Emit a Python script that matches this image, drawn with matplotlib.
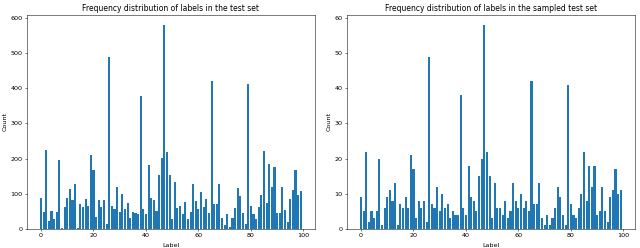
import matplotlib
matplotlib.use("Agg")
import matplotlib.pyplot as plt
import numpy as np

labels = np.arange(100)

test_counts = [88, 48, 225, 23, 52, 27, 47, 196, 3, 62,
               88, 113, 82, 127, 2, 70, 63, 86, 64, 209,
               168, 33, 82, 63, 82, 15, 490, 66, 56, 119,
               48, 98, 57, 73, 31, 47, 44, 42, 377, 57,
               42, 182, 89, 82, 52, 152, 203, 580, 220, 152,
               28, 133, 59, 65, 42, 77, 28, 48, 128, 80,
               56, 104, 63, 85, 46, 422, 72, 70, 127, 31,
               12, 42, 5, 31, 60, 117, 94, 44, 13, 412,
               65, 43, 28, 63, 97, 222, 75, 185, 118, 176,
               44, 46, 120, 53, 20, 86, 110, 167, 97, 107]

sampled_counts = [9, 5, 22, 2, 5, 3, 5, 20, 1, 6,
                  9, 11, 8, 13, 1, 7, 6, 9, 6, 21,
                  17, 3, 8, 6, 8, 2, 49, 7, 6, 12,
                  5, 10, 6, 7, 3, 5, 4, 4, 38, 6,
                  4, 18, 9, 8, 5, 15, 20, 58, 22, 15,
                  3, 13, 6, 6, 4, 8, 3, 5, 13, 8,
                  6, 10, 6, 8, 5, 42, 7, 7, 13, 3,
                  1, 4, 1, 3, 6, 12, 9, 4, 1, 41,
                  7, 4, 3, 6, 10, 22, 8, 18, 12, 18,
                  4, 5, 12, 5, 2, 9, 11, 17, 10, 11]

# original figure scaled down to 640x248
fig, axes = plt.subplots(1, 2, figsize = (14, 5.425), dpi = 640 / 14)
fig.subplots_adjust(left = 0.042, right = 0.992, top = 0.94, bottom = 0.077, wspace = 0.111)

for ax, counts, title in zip(axes, [test_counts, sampled_counts],
                             ["Frequency distribution of labels in the test set",
                              "Frequency distribution of labels in the sampled test set"]):
    ax.bar(labels, counts)
    ax.set_title(title)
    ax.set_xlabel("Label", labelpad = 8)
    ax.set_ylabel("Count")

fig.savefig("out.png", dpi = 640 / 14)
